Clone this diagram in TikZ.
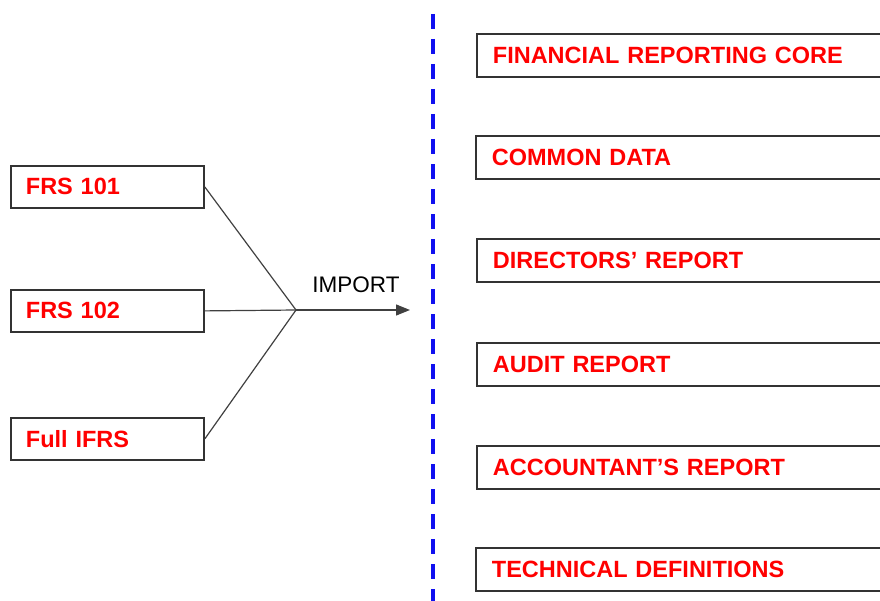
\documentclass[tikz,border=0pt]{standalone}
\usepackage{fontspec}
\setmainfont{Liberation Sans}
\usetikzlibrary{arrows.meta}

\definecolor{boxline}{HTML}{333333}
\definecolor{wire}{HTML}{404040}
\definecolor{divider}{HTML}{1010F0}

\tikzset{
source/.style={draw=boxline,line width=1.8bp,minimum height=42bp,
  text width=163bp,inner xsep=15bp,align=left,anchor=north west,
  text=red,font=\fontsize{23.5bp}{26bp}\selectfont\bfseries},
module/.style={source,minimum height=43bp,text width=390bp,inner xsep=16bp}}

\begin{document}
\begin{tikzpicture}
  [x=1bp,y=-1bp,
   feed/.style={draw=wire,line width=1.2bp}]
   \useasboundingbox (0,0) rectangle (880,601);
   \clip (0,0) rectangle (880,601);
   % standards on the left
   \node[source] (f101) at (10,165) {FRS 101};
   \node[source] (f102) at (10,289) {FRS 102};
   \node[source] (ifrs) at (10,417) {Full IFRS};
   % merge point and import arrow
   \coordinate (join) at (296,310);
   \coordinate (tip) at (410,310);
   \draw[feed] (f101.east) -- (join);
   \draw[feed] (f102.east) -- (join);
   \draw[feed] (ifrs.east) -- (join);
   \draw[feed,-{Triangle[length=14bp,width=11bp]}] (join) -- (tip);
   \node[font=\fontsize{22.5bp}{25bp}\selectfont] (imp) at (356,285) {IMPORT};
   % divider
   \coordinate (top) at (433,14);
   \coordinate (bot) at (433,601);
   \draw[divider,line width=3.4bp,dash pattern=on 15bp off 10bp] (top) -- (bot);
   % modules on the right
   \node[module] (core) at (476,33) {FINANCIAL REPORTING CORE};
   \node[module] (data) at (475,135) {COMMON DATA};
   \node[module] (dirs) at (476,238) {DIRECTORS’ REPORT};
   \node[module] (audt) at (476,342) {AUDIT REPORT};
   \node[module] (acct) at (476,445) {ACCOUNTANT’S REPORT};
   \node[module] (tech) at (475,547) {TECHNICAL DEFINITIONS};
\end{tikzpicture}
\end{document}
